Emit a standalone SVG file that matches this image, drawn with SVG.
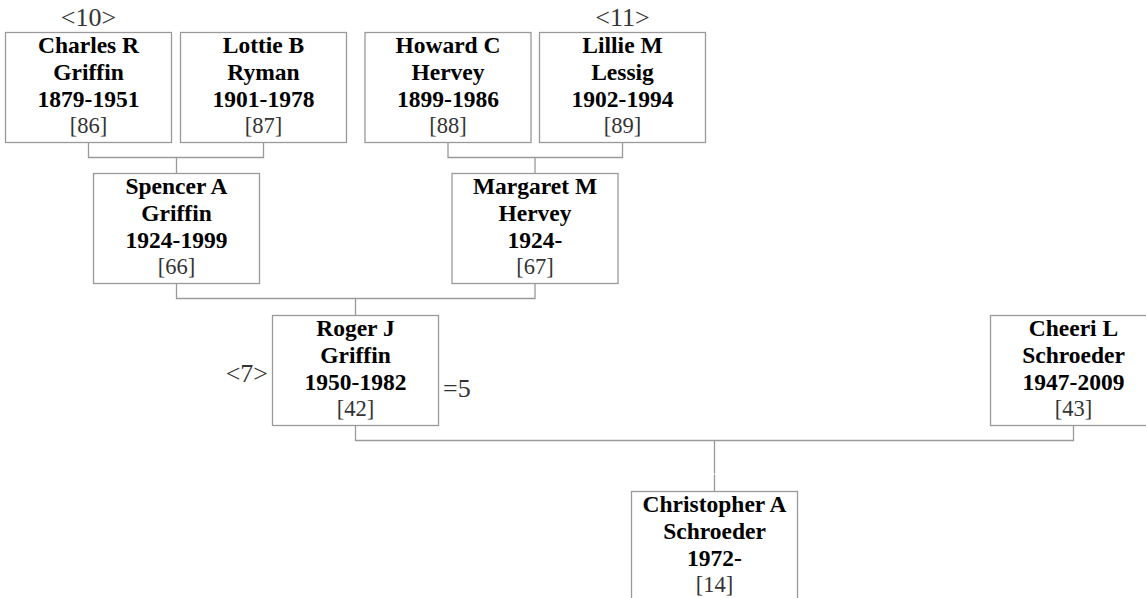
<svg xmlns="http://www.w3.org/2000/svg" width="1146" height="598" viewBox="0 0 1146 598">
<style>
.box{fill:#fff;stroke:#9a9a9a;stroke-width:1.3}
.ln{fill:none;stroke:#9a9a9a;stroke-width:1.3}
text{font-family:'Liberation Serif',serif}
.n{font-weight:bold;font-size:23.5px;fill:#000;text-anchor:middle}
.r{font-size:22.5px;fill:#333;text-anchor:middle}
.a{font-size:26px;fill:#333}
</style>
<rect width="1146" height="598" fill="#fff"/>
<g id="connectors">
<path class="ln" d="M88.5 142.5V157.5H263.5V142.5M176.5 157.5V173.5"/>
<path class="ln" d="M448 142.5V157.5H622.5V142.5M535 157.5V173.5"/>
<path class="ln" d="M176.5 283.5V298.5H535V283.5M355.5 298.5V315.5"/>
<path class="ln" d="M355.5 425.5V440.5H1073.5V425.5M714.5 440.5V473.5M714.5 474.5V491.5"/>
</g>
<g id="charles" font-family="Liberation Serif, serif">
<rect class="box" x="5.5" y="32.5" width="166" height="110"/>
<text class="n" x="88.5" y="53.2">Charles R</text>
<text class="n" x="88.5" y="79.9">Griffin</text>
<text class="n" x="88.5" y="106.5">1879-1951</text>
<text class="r" x="88.5" y="133.2">[86]</text>
<text class="a" x="88.5" y="26" text-anchor="middle">&lt;10&gt;</text>
</g>
<g id="lottie">
<rect class="box" x="180.5" y="32.5" width="166" height="110"/>
<text class="n" x="263.5" y="53.2">Lottie B</text>
<text class="n" x="263.5" y="79.9">Ryman</text>
<text class="n" x="263.5" y="106.5">1901-1978</text>
<text class="r" x="263.5" y="133.2">[87]</text>
</g>
<g id="howard">
<rect class="box" x="365" y="32.5" width="166" height="110"/>
<text class="n" x="448" y="53.2">Howard C</text>
<text class="n" x="448" y="79.9">Hervey</text>
<text class="n" x="448" y="106.5">1899-1986</text>
<text class="r" x="448" y="133.2">[88]</text>
</g>
<g id="lillie">
<rect class="box" x="539.5" y="32.5" width="166" height="110"/>
<text class="n" x="622.5" y="53.2">Lillie M</text>
<text class="n" x="622.5" y="79.9">Lessig</text>
<text class="n" x="622.5" y="106.5">1902-1994</text>
<text class="r" x="622.5" y="133.2">[89]</text>
<text class="a" x="622.5" y="26" text-anchor="middle">&lt;11&gt;</text>
</g>
<g id="spencer">
<rect class="box" x="93.5" y="173.5" width="166" height="110"/>
<text class="n" x="176.5" y="194.2">Spencer A</text>
<text class="n" x="176.5" y="220.9">Griffin</text>
<text class="n" x="176.5" y="247.5">1924-1999</text>
<text class="r" x="176.5" y="274.2">[66]</text>
</g>
<g id="margaret">
<rect class="box" x="452" y="173.5" width="166" height="110"/>
<text class="n" x="535" y="194.2">Margaret M</text>
<text class="n" x="535" y="220.9">Hervey</text>
<text class="n" x="535" y="247.5">1924-</text>
<text class="r" x="535" y="274.2">[67]</text>
</g>
<g id="roger">
<rect class="box" x="272.5" y="315.5" width="166" height="110"/>
<text class="n" x="355.5" y="336.2">Roger J</text>
<text class="n" x="355.5" y="362.9">Griffin</text>
<text class="n" x="355.5" y="389.5">1950-1982</text>
<text class="r" x="355.5" y="416.2">[42]</text>
<text class="a" x="268" y="381.5" text-anchor="end">&lt;7&gt;</text>
<text class="a" x="443" y="396.5">=5</text>
</g>
<g id="cheeri">
<rect class="box" x="990.5" y="315.5" width="166" height="110"/>
<text class="n" x="1073.5" y="336.2">Cheeri L</text>
<text class="n" x="1073.5" y="362.9">Schroeder</text>
<text class="n" x="1073.5" y="389.5">1947-2009</text>
<text class="r" x="1073.5" y="416.2">[43]</text>
</g>
<g id="christopher">
<rect class="box" x="631.5" y="491.5" width="166" height="110"/>
<text class="n" x="714.5" y="512.2">Christopher A</text>
<text class="n" x="714.5" y="538.9">Schroeder</text>
<text class="n" x="714.5" y="565.5">1972-</text>
<text class="r" x="714.5" y="592.2">[14]</text>
</g>
</svg>
